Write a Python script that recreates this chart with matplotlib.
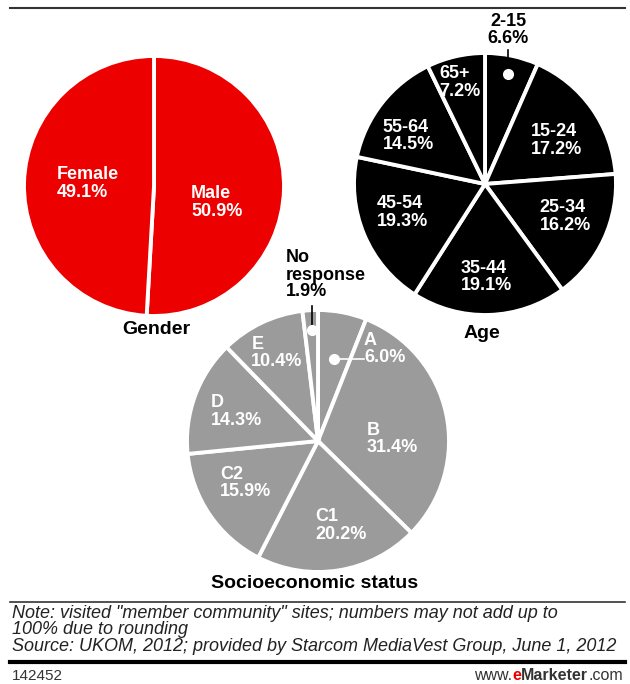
import numpy as np
import matplotlib
matplotlib.use("Agg")
from matplotlib import pyplot as plt

plt.rcParams['font.family'] = ['Liberation Sans', 'DejaVu Sans']

# data
gender_labels = ['Male', 'Female']
gender_values = [50.9, 49.1]

age_labels = ['2-15', '15-24', '25-34', '35-44', '45-54', '55-64', '65+']
age_values = [6.6, 17.2, 16.2, 19.1, 19.3, 14.5, 7.2]

socio_labels = ['A', 'B', 'C1', 'C2', 'D', 'E', 'No\nresponse']
socio_values = [6.0, 31.4, 20.2, 15.9, 14.3, 10.4, 1.9]

note = ('Note: visited "member community" sites; numbers may not add up to\n'
        '100% due to rounding\n'
        'Source: UKOM, 2012; provided by Starcom MediaVest Group, June 1, 2012')
chart_id = '142452'

W, H = 630, 684
RED, GRAY = '#ec0000', '#9b9b9b'
LFS = 13  # slice label font size

fig = plt.figure(figsize=(W / 100, H / 100), dpi=100)
ax = fig.add_axes([0, 0, 1, 1])


def Y(y):
    # pixel rows (top-down) -> data y (bottom-up)
    return H - y


def draw_pie(values, labels, color, cx, cy, r, label_pos, skip=()):
    wedges, _ = ax.pie(values, startangle=90, counterclock=False,
                       center=(cx, Y(cy)), radius=r, colors=[color] * len(values),
                       wedgeprops=dict(edgecolor='white', linewidth=2.8))
    for i, (lab, val) in enumerate(zip(labels, values)):
        if i in skip:
            continue
        frac, ang = label_pos[i]
        x = cx + frac * r * np.cos(np.radians(ang))
        y = Y(cy) + frac * r * np.sin(np.radians(ang))
        ax.text(x, y, f'{lab}\n{val:.1f}%', color='white', fontsize=LFS,
                fontweight='bold', ha='center', va='center',
                multialignment='left', linespacing=1.05)
    return wedges


def mid_angle(values, i):
    start = 90 - 3.6 * sum(values[:i])
    return start - 1.8 * values[i]


# gender
draw_pie(gender_values, gender_labels, RED, 154, 186, 130,
         [(0.5, -15), (0.51, 178)])

# age
age_pos = [None, (0.64, 31), (0.66, -22), (0.71, -89), (0.67, 199),
           (0.69, 148), (0.8, 104)]
draw_pie(age_values, age_labels, 'black', 485, 184, 131, age_pos, skip=(0,))
a = np.radians(mid_angle(age_values, 0))
dx, dy = 485 + 0.855 * 131 * np.cos(a), Y(184) + 0.855 * 131 * np.sin(a)
ax.plot([dx, dx], [dy, Y(50)], color='black', lw=1.2, zorder=3)
ax.plot(dx, dy, 'o', color='white', ms=7, zorder=4)
ax.text(dx, Y(30), f'{age_labels[0]}\n{age_values[0]:.1f}%', fontsize=LFS,
        fontweight='bold', ha='center', va='center', linespacing=1.05)

# socioeconomic
socio_pos = [None, (0.57, 1.5), (0.67, -75), (0.64, -150), (0.66, 160),
             (0.74, 115), None]
draw_pie(socio_values, socio_labels, GRAY, 318, 441, 131, socio_pos, skip=(0, 6))
a = np.radians(mid_angle(socio_values, 0))
dx, dy = 318 + 0.64 * 131 * np.cos(a), Y(441) + 0.64 * 131 * np.sin(a)
ax.plot([dx, 364], [dy, dy], color='white', lw=1.2, zorder=3)
ax.plot(dx, dy, 'o', color='white', ms=7, zorder=4)
ax.text(364, Y(349), f'{socio_labels[0]}\n{socio_values[0]:.1f}%', color='white',
        fontsize=LFS, fontweight='bold', ha='left', va='center', linespacing=1.05)
a = np.radians(mid_angle(socio_values, 6))
dx, dy = 318 + 0.85 * 131 * np.cos(a), Y(441) + 0.85 * 131 * np.sin(a)
ax.plot([dx, dx], [dy, Y(306)], color='black', lw=1.2, zorder=3)
ax.plot(dx, dy, 'o', color='white', ms=7, zorder=4)
ax.text(286, Y(275), f'{socio_labels[6]}\n{socio_values[6]:.1f}%', fontsize=LFS,
        fontweight='bold', ha='left', va='center', linespacing=1.0)

# titles
for txt, x, y in [('Gender', 156, 330), ('Age', 482, 333),
                  ('Socioeconomic status', 315, 583)]:
    ax.text(x, Y(y), txt, fontsize=14, fontweight='bold', ha='center', va='center')

# rules and footer
ax.plot([10, 625], [Y(8), Y(8)], color='#333333', lw=1.5)
ax.plot([10, 625], [Y(602), Y(602)], color='#333333', lw=1.2)
ax.plot([10, 625], [Y(662), Y(662)], color='black', lw=3)
ax.text(12, Y(630), note, fontsize=13, style='italic', color='#222222',
        ha='left', va='center', linespacing=0.95)
ax.text(12, Y(676), chart_id, fontsize=11, color='#333333', ha='left', va='center')
t1 = ax.text(474, Y(676), 'www.', fontsize=11.5, color='#333333', ha='left', va='center')
t2 = ax.annotate('e', xy=(1, 0.5), xycoords=t1, fontsize=11.5, color=RED,
                 fontweight='bold', ha='left', va='center')
t3 = ax.annotate('Marketer', xy=(1, 0.5), xycoords=t2, fontsize=11.5, color='#333333',
                 fontweight='bold', ha='left', va='center')
ax.annotate('.com', xy=(1, 0.5), xycoords=t3, fontsize=11.5, color='#333333',
            ha='left', va='center')

ax.set_xlim(0, W)
ax.set_ylim(0, H)
ax.set_aspect('auto')
ax.set_axis_off()

fig.savefig('out.png', dpi=100, facecolor='white')
